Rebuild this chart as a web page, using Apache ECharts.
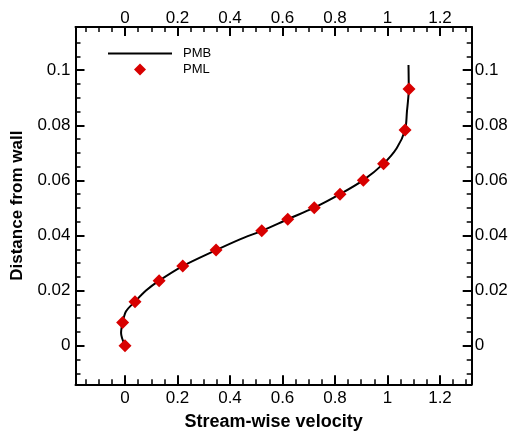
<!DOCTYPE html>
<html>
<head>
<meta charset="utf-8">
<script src="https://cdn.jsdelivr.net/npm/echarts@6/dist/echarts.min.js"></script>
<style>
html, body { margin: 0; padding: 0; background: #fff; }
#chart { width: 516px; height: 434px; }
</style>
</head>
<body>
<div id="chart"></div>
<script>
// PMB 曲线 (x = 流向速度, y = 离壁距离)
var pmbX = [0.0, -0.015, -0.009, 0.004, 0.038, 0.08, 0.13, 0.22, 0.347, 0.44, 0.521, 0.62, 0.721, 0.819, 0.908, 0.985, 1.035, 1.067, 1.074, 1.081, 1.080];
var pmbY = [0.0, 0.0046, 0.0084, 0.0125, 0.016, 0.0200, 0.0236, 0.0289, 0.0347, 0.0387, 0.0417, 0.0459, 0.0501, 0.055, 0.0601, 0.0661, 0.0717, 0.0783, 0.0849, 0.0932, 0.1019];

// PML 点
var pmlX = [0.0, -0.009, 0.038, 0.13, 0.22, 0.347, 0.521, 0.62, 0.721, 0.819, 0.908, 0.985, 1.067, 1.082];
var pmlY = [0.0, 0.0084, 0.016, 0.0236, 0.0289, 0.0347, 0.0417, 0.0459, 0.0501, 0.055, 0.0601, 0.0661, 0.0783, 0.0932];

// 刻度
var xMajor = [0, 0.2, 0.4, 0.6, 0.8, 1, 1.2];
var xMinor = [-0.15, -0.1, -0.05, 0.05, 0.1, 0.15, 0.25, 0.3, 0.35, 0.45, 0.5, 0.55, 0.65, 0.7, 0.75, 0.85, 0.9, 0.95, 1.05, 1.1, 1.15, 1.25, 1.3];
var yMajor = [0, 0.02, 0.04, 0.06, 0.08, 0.1];
var yMinor = [-0.01, -0.005, 0.005, 0.01, 0.015, 0.025, 0.03, 0.035, 0.045, 0.05, 0.055, 0.065, 0.07, 0.075, 0.085, 0.09, 0.095, 0.105, 0.11];

var xRange = [-0.1886, 1.3208];
var yRange = [-0.01401, 0.1157];

var FONT = "'Liberation Sans', Arial, sans-serif";

function zip(a, b){
    var out = [];
    for (var i = 0; i < a.length; i ++)
        out.push([a[i], b[i]]);
    return out;
}

function fmt(v){
    return String(+v.toFixed(3));
}

function makeAxis(dim, pos, ticks, len, width, showLine, showLabel){
    var margin = {bottom: 6, top: 0, left: 5, right: 3}[pos];
    var range = dim == 'x' ? xRange : yRange;
    return {
        type: 'value',
        position: pos,
        min: range[0],
        max: range[1],
        splitLine: {show: false},
        axisLine: {show: showLine, onZero: false, lineStyle: {color: '#000', width: 2}},
        axisTick: {show: true, inside: true, length: len, customValues: ticks,
                   lineStyle: {color: '#000', width: width}},
        axisLabel: {show: showLabel, customValues: ticks, margin: margin, formatter: fmt,
                    color: '#000', fontSize: 17, fontFamily: FONT}
    };
}

var xAxes = [
    makeAxis('x', 'bottom', xMajor, 9, 2, true, true),
    makeAxis('x', 'top', xMajor, 9, 2, true, true),
    makeAxis('x', 'bottom', xMinor, 5, 1.5, false, false),
    makeAxis('x', 'top', xMinor, 5, 1.5, false, false)
];
xAxes[0].name = 'Stream-wise velocity';
xAxes[0].nameLocation = 'middle';
xAxes[0].nameGap = 29;
xAxes[0].nameTextStyle = {color: '#000', fontSize: 18, fontWeight: 'bold', fontFamily: FONT};

var yAxes = [
    makeAxis('y', 'left', yMajor, 9, 2, true, true),
    makeAxis('y', 'right', yMajor, 9, 2, true, true),
    makeAxis('y', 'left', yMinor, 5, 1.5, false, false),
    makeAxis('y', 'right', yMinor, 5, 1.5, false, false)
];
yAxes[0].name = 'Distance from wall';
yAxes[0].nameLocation = 'middle';
yAxes[0].nameGap = 50;
yAxes[0].nameTextStyle = {color: '#000', fontSize: 17, fontWeight: 'bold', fontFamily: FONT};

var option = {
    animation: false,
    backgroundColor: '#fff',
    grid: {left: 75.5, right: 44.3, top: 27, bottom: 49.7, containLabel: false, outerBoundsMode: 'none'},
    xAxis: xAxes,
    yAxis: yAxes,
    legend: [
        {
            data: [{name: 'PMB', icon: 'rect'}],
            left: 108, top: 47, padding: 0,
            itemWidth: 64, itemHeight: 2,
            textStyle: {color: '#000', fontSize: 13, fontFamily: FONT, padding: [0, 0, 0, 6]}
        },
        {
            data: ['PML'],
            left: 134, top: 63, padding: 0,
            itemWidth: 12, itemHeight: 12,
            textStyle: {color: '#000', fontSize: 13, fontFamily: FONT, padding: [0, 0, 0, 32]}
        }
    ],
    series: [
        {
            name: 'PMB',
            type: 'line',
            data: zip(pmbX, pmbY),
            smooth: 0.3,
            symbol: 'none',
            lineStyle: {color: '#000', width: 2},
            itemStyle: {color: '#000'},
            z: 2
        },
        {
            name: 'PML',
            type: 'scatter',
            data: zip(pmlX, pmlY),
            symbol: 'diamond',
            symbolSize: 13,
            itemStyle: {color: '#d80000', opacity: 1},
            z: 3
        }
    ]
};

var chart = echarts.init(document.getElementById('chart'));
chart.setOption(option);
</script>
</body>
</html>
